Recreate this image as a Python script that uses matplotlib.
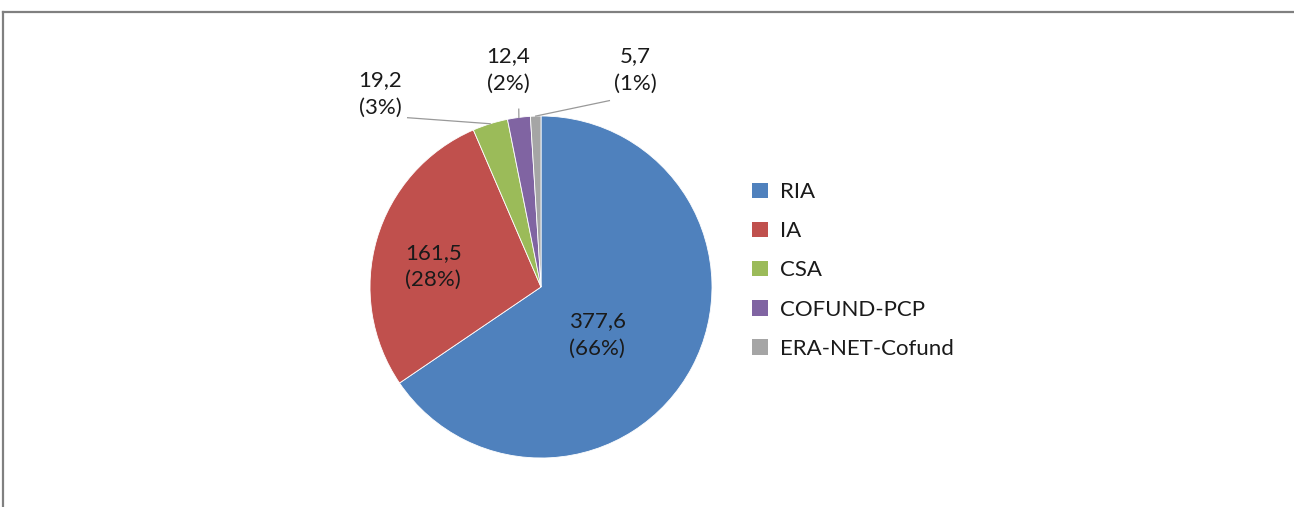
'''
Pie chart of budget per action type
'''
import numpy
import matplotlib
matplotlib.use('Agg')
import matplotlib.pyplot as plt
from matplotlib.lines   import Line2D
from matplotlib.patches import Patch

# ---------------------------------
categories = ['RIA', 'IA', 'CSA', 'COFUND-PCP', 'ERA-NET-Cofund']
values     = [377.6, 161.5, 19.2, 12.4, 5.7]
colors     = ['#4F81BD', '#C0504D', '#9BBB59', '#8064A2', '#A5A5A5']

# label anchors, in units of pie radius, (x, y, leader line end x, y or None)
label_pos  = [
    (0.33, -0.28, None),
    (-0.63, 0.12, None),
    (-0.94, 1.13, (-0.78, 0.99)),
    (-0.19, 1.27, (-0.13, 1.04)),
    (0.55, 1.27, (0.40, 1.09)),
]
# ---------------------------------
W, H, DPI  = 1294, 507, 100
TXT        = '#1a1a1a'
FONT       = ['Lato', 'DejaVu Sans']
FSIZE      = 16

plt.rcParams['font.family'] = FONT
# ---------------------------------
def _label(val : float, tot : float) -> str:
    pct = round(100 * val / tot)
    return f'{val:.1f}'.replace('.', ',') + f'\n({pct}%)'
# ---------------------------------
def main():
    fig = plt.figure(figsize=(W / DPI, H / DPI), dpi=DPI)

    cx, cy, rad = 541, 287, 171
    ax = fig.add_axes([(cx - rad) / W, (H - cy - rad) / H, 2 * rad / W, 2 * rad / H])

    wedges, _ = ax.pie(values, colors=colors, startangle=90, counterclock=False,
                       radius=1.0, wedgeprops={'linewidth': 0.6, 'edgecolor': 'white'})
    ax.set_xlim(-1, 1)
    ax.set_ylim(-1, 1)
    ax.set_aspect('equal')
    ax.axis('off')

    tot = sum(values)
    for wedge, val, (lx, ly, lead) in zip(wedges, values, label_pos):
        ax.text(lx, ly, _label(val, tot), ha='center', va='center', color=TXT,
                fontsize=FSIZE, linespacing=1.45, clip_on=False)
        if lead is None:
            continue
        ang = numpy.deg2rad(0.5 * (wedge.theta1 + wedge.theta2))
        ax.plot([numpy.cos(ang), lead[0]], [numpy.sin(ang), lead[1]],
                color='#999999', lw=0.9, clip_on=False)

    handles = [Patch(facecolor=c, edgecolor='none') for c in colors]
    fig.legend(handles, categories, loc='center left',
               bbox_to_anchor=(752 / W, 1 - 270.5 / H), frameon=False,
               fontsize=FSIZE, handlelength=0.7, handleheight=0.7,
               handletextpad=0.55, labelspacing=0.86, borderpad=0,
               borderaxespad=0, labelcolor=TXT)

    # outer frame, only top and left visible
    frame = dict(color='#808080', lw=1.6, transform=fig.transFigure)
    fig.add_artist(Line2D([3 / W, 1], [1 - 12 / H, 1 - 12 / H], **frame))
    fig.add_artist(Line2D([3 / W, 3 / W], [0, 1 - 12 / H], **frame))

    fig.savefig('out.png', dpi=DPI, facecolor='white')
# ---------------------------------
if __name__ == '__main__':
    main()
